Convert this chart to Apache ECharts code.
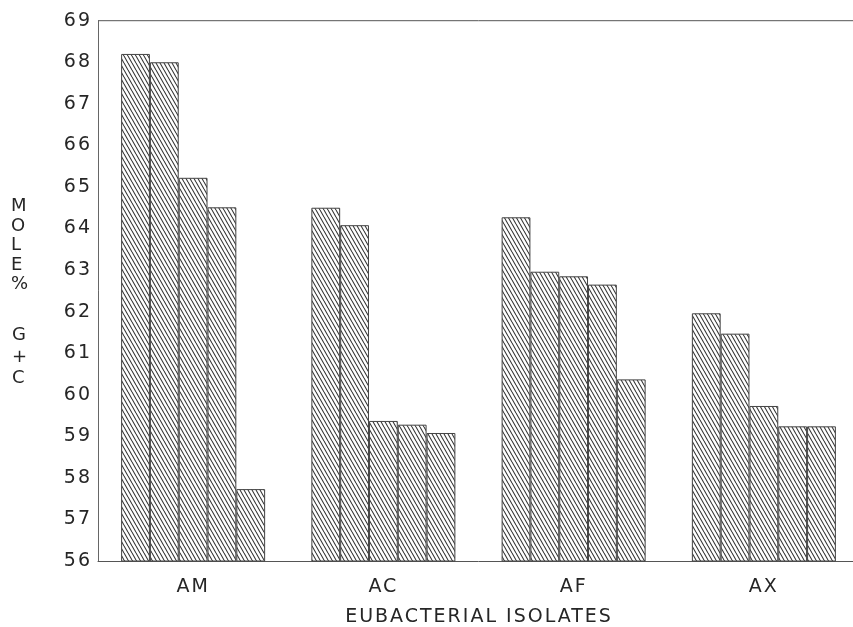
<!DOCTYPE html>
<html>
<head>
<meta charset="utf-8">
<script src="https://cdn.jsdelivr.net/npm/echarts@6/dist/echarts.min.js"></script>
<style>
  html, body { margin: 0; padding: 0; background: #fff; overflow: hidden; }
  #chart { width: 859px; height: 627px; }
</style>
</head>
<body>
<div id="chart"></div>
<script>
var categories = ['AM', 'AC', 'AF', 'AX'];
var bar1 = [68.2, 64.5, 64.27, 61.96];
var bar2 = [68.0, 64.08, 62.96, 61.47];
var bar3 = [65.22, 59.37, 62.85, 59.73];
var bar4 = [64.51, 59.28, 62.65, 59.24];
var bar5 = [57.73, 59.08, 60.37, 59.24];
var yTicks = { min: 56, max: 69, interval: 1 };
var xTitle = 'EUBACTERIAL ISOLATES';
var yTitleTop = 'M\nO\nL\nE\n%';
var yTitleBottom = 'G\n+\nC';

// letter spacing to mimic the wide lettering of the original
(function () {
  var proto = CanvasRenderingContext2D.prototype;
  var orig = proto.fillText;
  proto.fillText = function () {
    var prev = this.letterSpacing;
    if (prev !== undefined) this.letterSpacing = '2px';
    var r = orig.apply(this, arguments);
    if (prev !== undefined) this.letterSpacing = prev;
    return r;
  };
})();

// diagonal hatch tile
var tile = document.createElement('canvas');
tile.width = 4; tile.height = 7;
(function () {
  var c = tile.getContext('2d');
  c.fillStyle = '#fff';
  c.fillRect(0, 0, 4, 7);
  c.strokeStyle = '#333';
  c.lineWidth = 1.1;
  for (var dx = -4; dx <= 4; dx += 4) {
    c.beginPath();
    c.moveTo(dx, 0);
    c.lineTo(dx + 4, 7);
    c.stroke();
  }
})();

var chart = echarts.init(document.getElementById('chart'), null, { renderer: 'canvas' });
var FONT = '"DejaVu Sans", sans-serif';
var TXT = '#262626';
function mk(data) {
  return {
    type: 'bar',
    data: data,
    barGap: '0%',
    barCategoryGap: '24.3%',
    itemStyle: { color: { image: tile, repeat: 'repeat' }, borderColor: '#444', borderWidth: 1 },
    emphasis: { disabled: true },
    animation: false
  };
}
chart.setOption({
  animation: false,
  grid: { left: 98, top: 20.7, right: 0, height: 540.3 },
  xAxis: {
    type: 'category',
    data: categories,
    axisLine: { lineStyle: { color: '#555', width: 1 } },
    axisTick: { show: false },
    axisLabel: { color: TXT, fontFamily: FONT, fontSize: 19, margin: 17 }
  },
  yAxis: {
    type: 'value',
    min: yTicks.min, max: yTicks.max, interval: yTicks.interval,
    axisLine: { show: true, lineStyle: { color: '#666', width: 1 } },
    axisTick: { show: false },
    splitLine: { show: false },
    axisLabel: { color: TXT, fontFamily: FONT, fontSize: 19, margin: 6 }
  },
  graphic: [
    { type: 'line', shape: { x1: 98, y1: 20.7, x2: 859, y2: 20.7 }, style: { stroke: '#555', lineWidth: 1 } },
    { type: 'text', left: 11, top: 197, style: { text: yTitleTop, font: '18px "DejaVu Sans", sans-serif', fill: TXT, lineHeight: 19.5, textAlign: 'left' } },
    { type: 'text', left: 12, top: 325, style: { text: yTitleBottom, font: '18px "DejaVu Sans", sans-serif', fill: TXT, lineHeight: 21.5, textAlign: 'left' } },
    { type: 'text', x: 479, y: 617, style: { text: xTitle, font: '19px "DejaVu Sans", sans-serif', fill: TXT, textAlign: 'center', textVerticalAlign: 'middle' } }
  ],
  series: [mk(bar1), mk(bar2), mk(bar3), mk(bar4), mk(bar5)]
});
</script>
</body>
</html>
